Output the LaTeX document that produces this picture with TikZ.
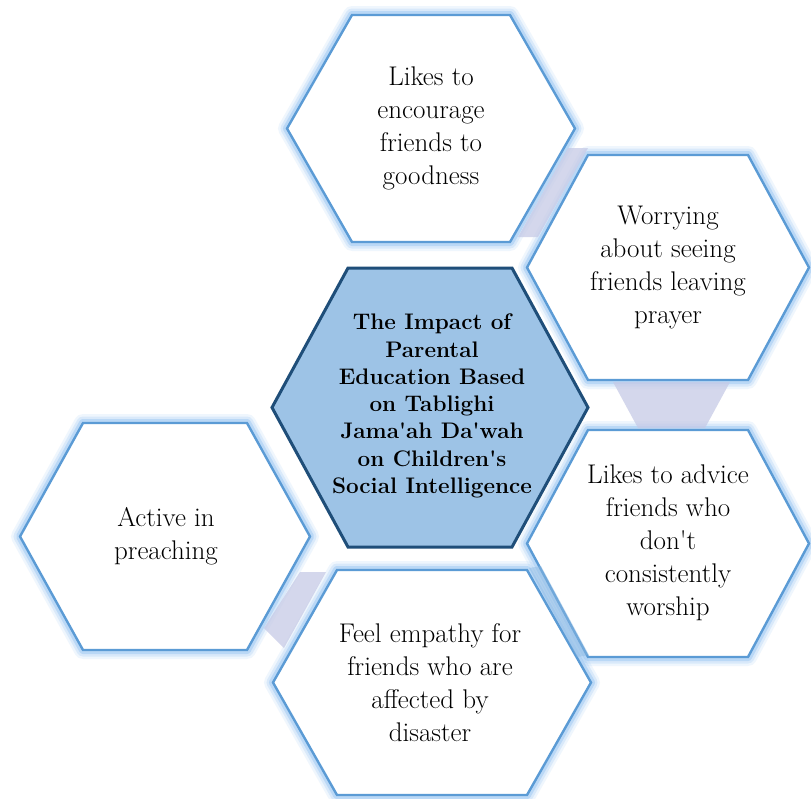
\documentclass[tikz,border=0pt]{standalone}
\usepackage{fontspec}
\definecolor{hexline}{RGB}{91,155,213}
\definecolor{glowc}{RGB}{130,185,240}
\definecolor{cenfill}{RGB}{157,195,230}
\definecolor{cenline}{RGB}{31,78,121}
\definecolor{lav}{RGB}{198,202,230}
\tikzset{
  outtxt/.style={align=center, text=black, font=\fontsize{27}{33}\selectfont},
  centxt/.style={align=center, text=black, font=\bfseries\fontsize{22.5}{27.3}\selectfont},
  glowline/.style={glowc, line join=round},
  hexstroke/.style={hexline, line width=2.4pt, line join=miter},
  connshape/.style={fill=lav, opacity=0.75},
}
% #1 cx, #2 cy, #3 half width, #4 half top edge, #5 half height
\newcommand\sethex[5]{%
  \coordinate (h1) at ({#1-#3},{#2});
  \coordinate (h2) at ({#1-#4},{#2-#5});
  \coordinate (h3) at ({#1+#4},{#2-#5});
  \coordinate (h4) at ({#1+#3},{#2});
  \coordinate (h5) at ({#1+#4},{#2+#5});
  \coordinate (h6) at ({#1-#4},{#2+#5});
}
\newcommand\glowhex[5]{%
  \sethex{#1}{#2}{#3}{#4}{#5}
  \draw[glowline, line width=18pt, opacity=0.12] (h1)--(h2)--(h3)--(h4)--(h5)--(h6)--cycle;
  \draw[glowline, line width=13pt, opacity=0.20] (h1)--(h2)--(h3)--(h4)--(h5)--(h6)--cycle;
  \draw[glowline, line width=8pt, opacity=0.35] (h1)--(h2)--(h3)--(h4)--(h5)--(h6)--cycle;
  \fill[white] (h1)--(h2)--(h3)--(h4)--(h5)--(h6)--cycle;
  \draw[hexstroke] (h1)--(h2)--(h3)--(h4)--(h5)--(h6)--cycle;
}
\begin{document}
\begin{tikzpicture}[x=1pt,y=-1pt]
\useasboundingbox[fill=white] (0,0) rectangle (811,798);

% central hexagon
\sethex{430}{407.5}{158}{82}{139.5}
\draw[fill=cenfill, draw=cenline, line width=3pt, line join=miter]
  (h1)--(h2)--(h3)--(h4)--(h5)--(h6)--cycle;

% outer hexagons
\glowhex{431}{128.5}{144}{79}{113.5}
\glowhex{668}{267.5}{141}{80}{112.5}
\glowhex{668}{543.5}{141}{80}{113.5}
\glowhex{432}{682.5}{159}{95}{112.5}
\glowhex{165}{536.5}{145}{82}{113.5}

% connecting shapes
\fill[connshape] (568,148) -- (588,148) -- (538,237) -- (518,237) -- cycle;
\fill[connshape] (613,382) -- (730,382) -- (705,428) -- (638,428) -- cycle;
\fill[connshape] (300,572) -- (326,572) -- (284,648) -- (264,628) -- cycle;
\fill[connshape, fill=hexline!70, opacity=0.45] (529,568) -- (541,566) -- (589,655) -- (577,657) -- cycle;

% texts
\node[centxt] (c) at (432,406) {The Impact of\\Parental\\Education Based\\on Tablighi\\Jama\textquotesingle ah Da\textquotesingle wah\\on Children\textquotesingle s\\Social Intelligence};
\node[outtxt] (t1) at (431,128) {Likes to\\encourage\\friends to\\goodness};
\node[outtxt] (t2) at (668,268) {Worrying\\about seeing\\friends leaving\\prayer};
\node[outtxt] (t3) at (668,543) {Likes to advice\\friends who\\don\textquotesingle t\\consistently\\worship};
\node[outtxt] (t4) at (430,683) {Feel empathy for\\friends who are\\affected by\\disaster};
\node[outtxt] (t5) at (166,536) {Active in\\preaching};
\end{tikzpicture}
\end{document}
